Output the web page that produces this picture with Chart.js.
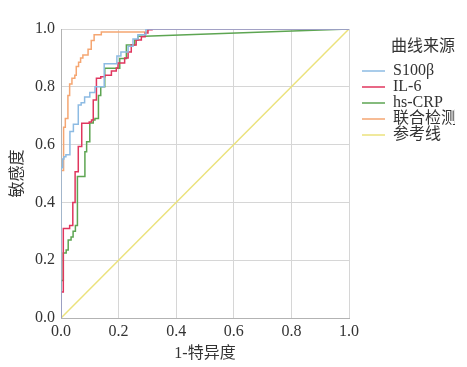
<!DOCTYPE html>
<html>
<head>
<meta charset="utf-8">
<script src="https://cdn.jsdelivr.net/npm/chart.js@4.4.0/dist/chart.umd.min.js"></script>
<style>
  body { margin: 0; background: #fff; }
  #wrap { width: 467px; height: 367px; }
</style>
</head>
<body>
<div id="wrap"><canvas id="rocChart" width="467" height="367"></canvas></div>
<script>
// ROC curves: false positive rate (1-特异度) at each step, and sensitivity after the step
const seriesNames = ['S100β', 'IL-6', 'hs-CRP', '联合检测', '参考线'];
const seriesColors = ['#8dbbe3', '#e0365e', '#5da552', '#f5a672', '#ebe27c'];
const tickValues = [0, 0.2, 0.4, 0.6, 0.8, 1.0];

const s100bFpr = [0, 0, 0.006, 0.010, 0.017, 0.031, 0.043, 0.060, 0.070, 0.082, 0.100, 0.118, 0.150, 0.194, 0.208, 0.233, 0.250, 0.267, 0.295];
const s100bTpr = [0, 0.52, 0.55, 0.558, 0.565, 0.645, 0.67, 0.737, 0.745, 0.765, 0.78, 0.80, 0.88, 0.907, 0.92, 0.94, 0.965, 0.98, 1];

const il6Fpr = [0, 0, 0.008, 0.030, 0.041, 0.049, 0.060, 0.072, 0.098, 0.106, 0.112, 0.123, 0.138, 0.152, 0.175, 0.192, 0.198, 0.221, 0.233, 0.244, 0.261, 0.279, 0.292, 0.302, 0.316];
const il6Tpr = [0, 0.09, 0.31, 0.32, 0.40, 0.506, 0.593, 0.674, 0.678, 0.685, 0.754, 0.83, 0.835, 0.84, 0.855, 0.865, 0.882, 0.90, 0.92, 0.945, 0.962, 0.973, 0.986, 0.997, 1];

const crpFpr = [0, 0, 0.008, 0.018, 0.025, 0.035, 0.042, 0.050, 0.057, 0.083, 0.089, 0.100, 0.112, 0.118, 0.130, 0.138, 0.152, 0.204, 0.227, 0.256, 0.267, 0.290];
const crpTpr = [0, 0.13, 0.225, 0.235, 0.27, 0.28, 0.30, 0.32, 0.49, 0.575, 0.61, 0.675, 0.685, 0.69, 0.77, 0.80, 0.864, 0.898, 0.945, 0.962, 0.975, 0.975];

const combFpr = [0, 0, 0.009, 0.015, 0.024, 0.030, 0.038, 0.048, 0.053, 0.061, 0.068, 0.076, 0.094, 0.105, 0.115, 0.140, 0.300];
const combTpr = [0, 0.51, 0.66, 0.69, 0.77, 0.81, 0.83, 0.84, 0.87, 0.885, 0.90, 0.91, 0.93, 0.96, 0.98, 0.99, 1];

const refFpr = [0, 1];
const refTpr = [0, 1];

const fontFamily = "'Liberation Serif', 'Noto Sans CJK SC', serif";

// turn step corners into a staircase path ending at (1,1)
function stairs(fpr, tpr) {
    const pts = [];
    for (let i = 0; i < fpr.length; i++) {
        if (i > 0) pts.push({ x: fpr[i], y: tpr[i - 1] });
        pts.push({ x: fpr[i], y: tpr[i] });
    }
    pts.push({ x: 1, y: 1 });
    return pts;
}

const curves = [
    stairs(s100bFpr, s100bTpr),
    stairs(il6Fpr, il6Tpr),
    stairs(crpFpr, crpTpr),
    stairs(combFpr, combTpr),
    refFpr.map((x, i) => ({ x: x, y: refTpr[i] }))
];

const ctx = document.getElementById('rocChart').getContext('2d');
const rocChart = new Chart(ctx, {
    type: 'scatter',
    data: {
        datasets: curves.map((pts, i) => ({
            label: seriesNames[i],
            data: pts,
            showLine: true,
            borderColor: seriesColors[i],
            backgroundColor: seriesColors[i],
            borderWidth: 1.5,
            pointRadius: 0,
            tension: 0
        }))
    },
    options: {
        responsive: false,
        animation: false,
        layout: { padding: { top: 29, right: 12, bottom: 0, left: 4 } },
        plugins: {
            tooltip: { enabled: false },
            legend: {
                position: 'right',
                align: 'start',
                maxWidth: 93,
                title: {
                    display: true,
                    text: '曲线来源',
                    position: 'end',
                    color: '#333',
                    font: { family: fontFamily, size: 16 },
                    padding: { top: 10, bottom: 4.8 }
                },
                labels: {
                    usePointStyle: true,
                    pointStyle: 'line',
                    pointStyleWidth: 23,
                    padding: 0,
                    color: '#333',
                    font: { family: fontFamily, size: 16 }
                }
            }
        },
        scales: {
            x: {
                type: 'linear',
                min: 0,
                max: 1,
                afterBuildTicks: (s) => { s.ticks = tickValues.map(v => ({ value: v })); },
                afterFit: (s) => { s.height = 49; },
                ticks: {
                    callback: (v) => v.toFixed(1),
                    color: '#333',
                    padding: 4,
                    maxRotation: 0,
                    font: { family: fontFamily, size: 16 }
                },
                grid: { color: '#d6d6d6', drawTicks: false },
                border: { color: '#b3b3b3' },
                title: {
                    display: true,
                    text: '1-特异度',
                    color: '#333',
                    font: { family: fontFamily, size: 16 },
                    padding: { top: 4, bottom: 4 }
                }
            },
            y: {
                type: 'linear',
                min: 0,
                max: 1,
                afterBuildTicks: (s) => { s.ticks = tickValues.map(v => ({ value: v })); },
                afterFit: (s) => { s.width = 57; },
                ticks: {
                    callback: (v) => v.toFixed(1),
                    color: '#333',
                    padding: 6,
                    font: { family: fontFamily, size: 16 }
                },
                grid: { color: '#d6d6d6', drawTicks: false },
                border: { color: '#b3b3b3' },
                title: {
                    display: true,
                    text: '敏感度',
                    color: '#333',
                    font: { family: fontFamily, size: 16 },
                    padding: { top: 4, bottom: 4 }
                }
            },
            // empty spacer between plot and legend
            gap: {
                type: 'linear',
                position: 'right',
                afterFit: (s) => { s.width = 13; },
                ticks: { display: false },
                grid: { display: false },
                border: { display: false }
            }
        }
    }
});
</script>
</body>
</html>
